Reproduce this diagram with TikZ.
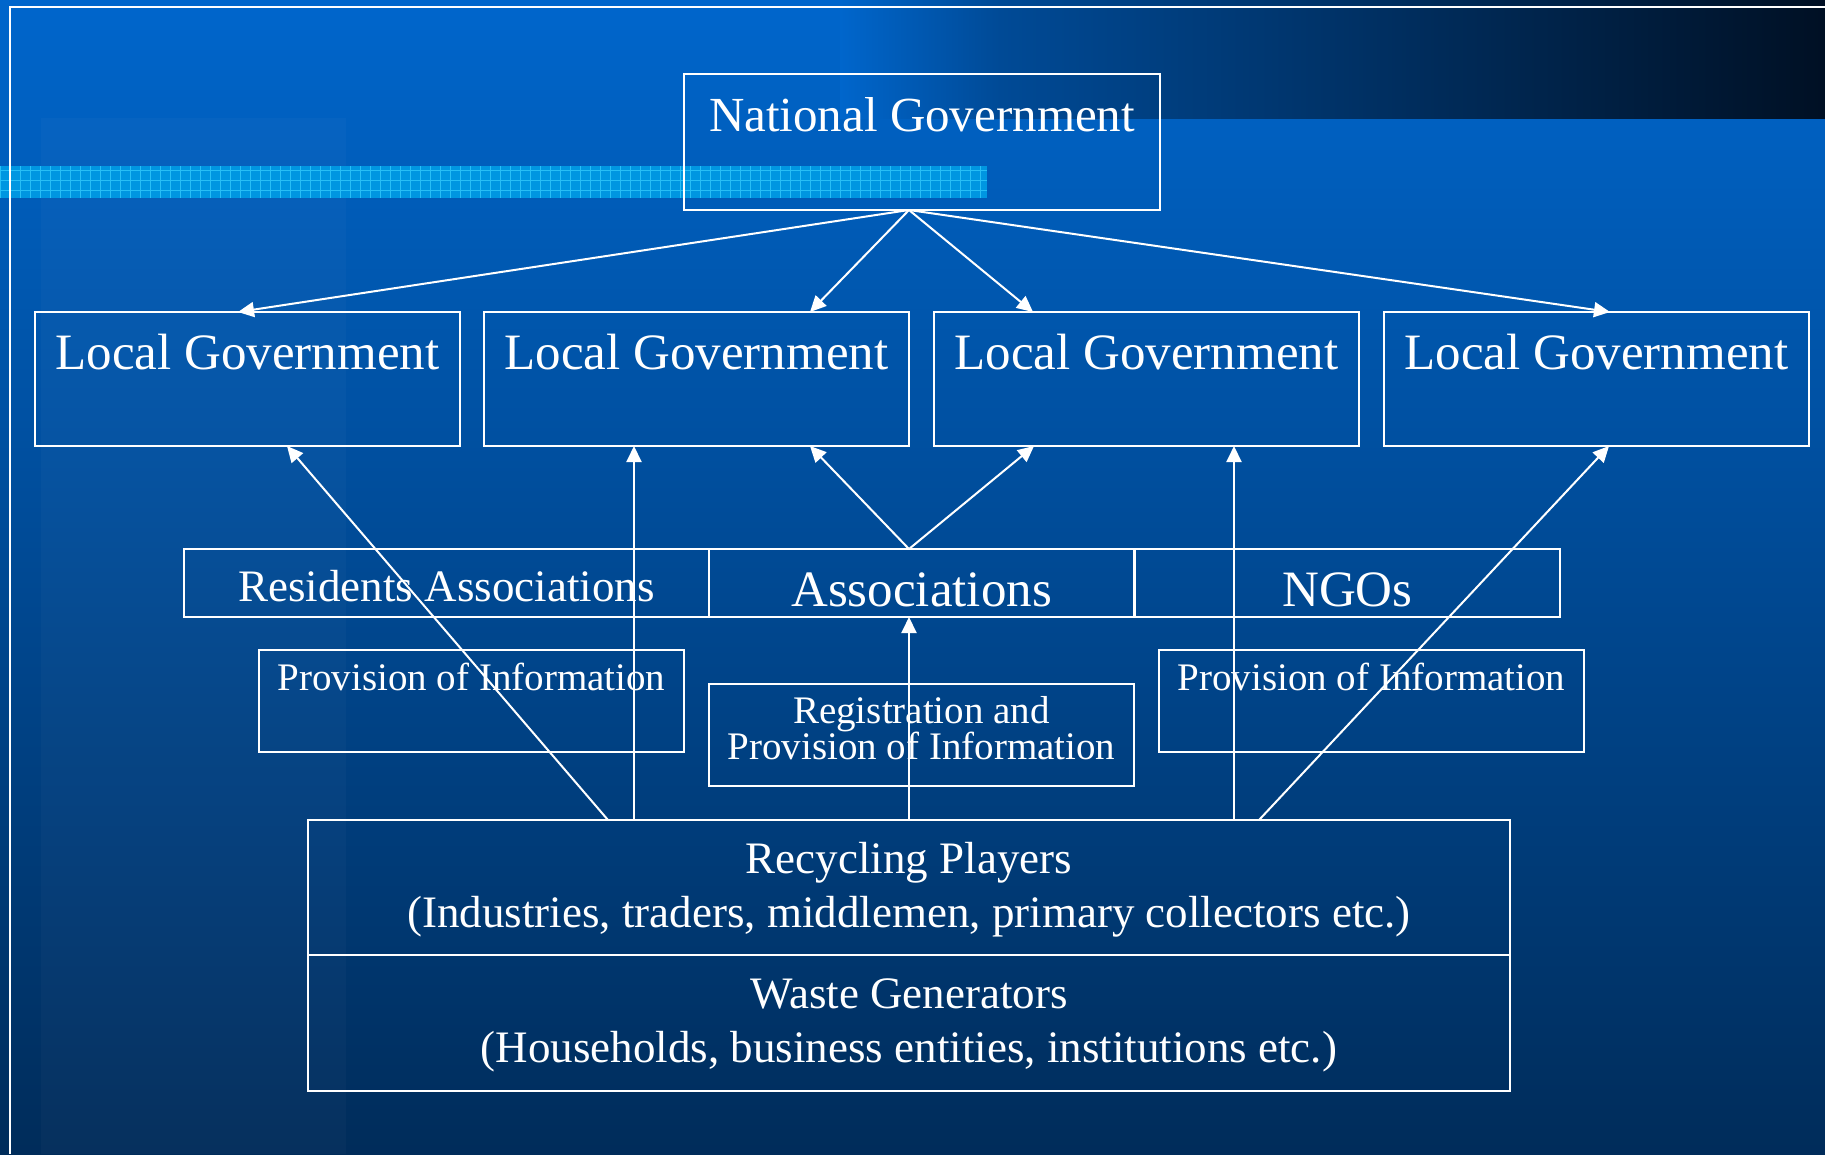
\documentclass[tikz,border=0pt]{standalone}
\usepackage{fontspec}
\setmainfont{Liberation Serif}
\usetikzlibrary{arrows.meta}

\definecolor{bgtop}{RGB}{0,102,204}
\definecolor{bgmid}{RGB}{0,82,162}
\definecolor{bgbot}{RGB}{0,44,90}
\definecolor{bandmid}{RGB}{0,74,150}
\definecolor{bandend}{RGB}{0,16,36}
\definecolor{stripe}{RGB}{0,150,225}
\definecolor{stripeline}{RGB}{40,190,245}

\begin{document}
\begin{tikzpicture}
[
    x = 1pt, y = -1pt,
    box/.style = {draw = white, line width = 2.2pt, text = white, inner sep = 0pt, outer sep = 0pt, align = flush center, anchor = north west},
    natbox/.style = {box, text width = 476pt, text height = 57pt, text depth = 79pt, font = \fontsize{49}{58}\selectfont},
    govbox/.style = {box, text width = 425pt, text height = 57pt, text depth = 77pt, font = \fontsize{51}{60}\selectfont},
    groupbox/.style = {box, text width = 425pt, text height = 57pt, text depth = 11pt, font = \fontsize{51}{60}\selectfont},
    infobox/.style = {box, text width = 425pt, text height = 40pt, text depth = 62pt, font = \fontsize{39}{35}\selectfont},
    playerbox/.style = {box, text width = 1202pt, text height = 53pt, text depth = 82pt, font = \fontsize{45}{54}\selectfont},
    link/.style = {draw = white, line width = 2pt, -{Triangle[length = 16pt, width = 15pt]}},
]
\useasboundingbox (0,0) rectangle (1825,1154);

% background
\fill[top color = bgtop, middle color = bgmid, bottom color = bgbot] (0,0) rectangle (1825,1154);
\fill[white, opacity = 0.025] (41,118) rectangle (346,1154);
\shade[left color = bgtop, right color = bandmid] (840,0) rectangle (1000,118);
\shade[left color = bandmid, right color = bandend] (1000,0) rectangle (1825,118);
\fill[stripe] (0,166) rectangle (987,198);
\draw[stripeline, line width = 0.8pt, step = 10pt] (0,166) grid (987,198);
\draw[white, line width = 2pt] (1825,7) -- (10,7) -- (10,1154);

% boxes
\node[natbox] (nat) at (684,74) {National Government};
\node[govbox] (lg1) at (35,312) {Local Government};
\node[govbox] (lg2) at (484,312) {Local Government};
\node[govbox] (lg3) at (934,312) {Local Government};
\node[govbox] (lg4) at (1384,312) {Local Government};
\node[groupbox, text width = 525pt, text height = 52pt, text depth = 16pt,
      font = \fontsize{45}{54}\selectfont] (resid) at (184,549) {Residents Associations};
\node[groupbox] (assoc) at (709,549) {Associations};
\node[groupbox] (ngo) at (1135,549) {NGOs};
\node[infobox] (info1) at (259,650) {Provision of Information};
\node[infobox] (info2) at (1159,650) {Provision of Information};
\node[infobox, text height = 39pt, text depth = 63pt] (reginfo) at (709,684) {Registration and\\Provision of Information};
\node[playerbox] (recyc) at (308,820) {Recycling Players\\(Industries, traders, middlemen, primary collectors etc.)};
\node[playerbox, text depth = 83pt] (waste) at (308,955) {Waste Generators\\(Households, business entities, institutions etc.)};

% national to local
\draw[link] (nat.south -| recyc.north) -- ([xshift = -9.5pt]lg1.north);
\draw[link] (nat.south -| recyc.north) -- ([xshift = 113.5pt]lg2.north);
\draw[link] (nat.south -| recyc.north) -- ([xshift = -113.5pt]lg3.north);
\draw[link] (nat.south -| recyc.north) -- ([xshift = 13.5pt]lg4.north);

% associations to local
\draw[link] (assoc.north -| recyc.north) -- ([xshift = 113.5pt]lg2.south);
\draw[link] (assoc.north -| recyc.north) -- ([xshift = -112.5pt]lg3.south);

% recycling players upwards
\draw[link] ([xshift = -301pt]recyc.north) -- ([xshift = 39.5pt]lg1.south);
\draw[link] ([xshift = -275pt]recyc.north) -- ([xshift = -275pt]recyc.north |- lg2.south);
\draw[link] (recyc.north) -- (recyc.north |- assoc.south);
\draw[link] ([xshift = 325pt]recyc.north) -- ([xshift = 325pt]recyc.north |- lg3.south);
\draw[link] ([xshift = 350pt]recyc.north) -- ([xshift = 12.5pt]lg4.south);
\end{tikzpicture}
\end{document}
